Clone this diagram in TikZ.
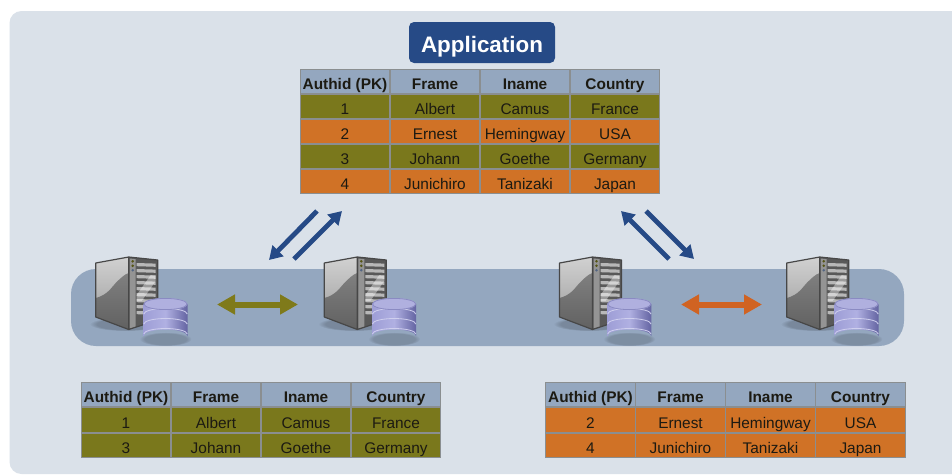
\documentclass[tikz,border=0pt]{standalone}
\usepackage{fontspec}
\setmainfont{Liberation Sans}
\usetikzlibrary{arrows.meta,fadings}
\definecolor{panelc}{HTML}{DAE1E9}
\definecolor{bandc}{HTML}{94A7BF}
\definecolor{olivec}{HTML}{7A781C}
\definecolor{orangec}{HTML}{D07226}
\definecolor{navyc}{HTML}{264A86}
\definecolor{gridc}{HTML}{8A8E90}
\definecolor{inkc}{HTML}{1C1A12}
\definecolor{arrolive}{HTML}{7F7A1A}
\definecolor{arrorange}{HTML}{D06322}
\definecolor{dbleft}{HTML}{9E9ED6}
\definecolor{dbmid}{HTML}{B0B0E2}
\definecolor{dbright}{HTML}{6464A2}
\definecolor{dbtop}{HTML}{B0B0DF}
\definecolor{dbrim}{HTML}{8A8AC2}
\definecolor{dbline}{HTML}{CFCFEE}
\tikzset{
  tcell/.style={draw=gridc,line width=1pt,minimum width=89.5pt,minimum height=24.5pt,inner sep=0pt,outer sep=0pt,
    text=inkc,text height=16pt,text depth=0pt,font=\fontsize{15.4}{17}\selectfont},
  headcell/.style={tcell,fill=bandc,font=\fontsize{15.4}{17}\selectfont\bfseries},
  olivecell/.style={tcell,fill=olivec},
  orangecell/.style={tcell,fill=orangec},
  appbox/.style={fill=navyc,rounded corners=5pt,minimum width=146pt,minimum height=41pt,inner sep=0pt,
    text=white,text height=20pt,text depth=0pt,font=\fontsize{22.4}{26}\selectfont\bfseries},
  bandbox/.style={fill=bandc,rounded corners=25pt,minimum width=833pt,minimum height=77pt,inner sep=0pt},
  bluearrow/.style={draw=navyc,line width=4.8pt,-{Triangle[length=13pt,width=15pt]}},
  syncolive/.style={draw=arrolive,line width=6pt,{Triangle[length=18pt,width=19pt]}-{Triangle[length=18pt,width=19pt]}},
  syncorange/.style={draw=arrorange,line width=6pt,{Triangle[length=18pt,width=19pt]}-{Triangle[length=18pt,width=19pt]}},
  serverunit/.pic={
    % soft floor shadow
    \fill[black,opacity=.18,path fading=circle with fuzzy edge 20 percent] (30,67) ellipse (36 and 7);
    % left face
    \shade[top color=black!18,bottom color=black!40] (0,6) -- (33,0) -- (33,72.5) -- (0,60) -- cycle;
    \shade[top color=black!50,bottom color=black!62]
      (0,41) .. controls (12,38) and (16,30) .. (20,26) .. controls (24,22) and (29,17) .. (33,16)
      -- (33,72.5) -- (0,60) -- cycle;
    % right face
    \fill[black!65] (33,0) -- (62,3) -- (62,63) -- (33,72.5) -- cycle;
    \fill[black!42] (34,1.5) -- (40,2.2) -- (40,70) -- (34,71.5) -- cycle;
    \foreach \vy in {6,12,18,24,30,36,42,48,54}{
      \fill[black!28] (41,\vy) -- (60,\vy+.6) -- (60,\vy+3.8) -- (41,\vy+3.2) -- cycle;
    }
    \fill[white,opacity=.4] (41,38) -- (55,18) -- (60,18) -- (60,24) -- (46,44) -- (41,44) -- cycle;
    \fill[olivec!70!black] (37,4.3) circle (1.4);
    \fill[olivec!70!black] (37,8.8) circle (1.4);
    \fill[navyc!50!gray] (37,13.2) circle (1.4);
    % outline
    \draw[black!72,line width=1.2pt,line join=round]
      (0,6) -- (33,0) -- (62,3) -- (62,63) -- (33,72.5) -- (0,60) -- cycle (33,0) -- (33,72.5);
    % database
    \begin{scope}[shift={(47.5,41)}]
      \fill[black,opacity=.15,path fading=circle with fuzzy edge 20 percent] (22.3,41) ellipse (26 and 7);
      \shade[left color=dbleft,right color=dbright,middle color=dbmid]
        (.3,6) -- (.3,38) arc[start angle=180,end angle=360,x radius=22,y radius=6.5] -- (44.3,6) -- cycle;
      \foreach \dy in {16,26,36}{
        \draw[dbline,line width=.8pt] (.6,\dy) arc[start angle=180,end angle=360,x radius=21.7,y radius=5.5];
      }
      \fill[dbtop] (22.3,6) ellipse (22 and 6);
      \draw[dbrim,line width=.8pt] (22.3,6) ellipse (21.6 and 5.6);
    \end{scope}
  }
}
% name prefix, row, y centre, left edge, style, four cell texts
\newcommand\tablerow[9]{%
  \node[#5] (#1r#2a) at (#4+45,#3) {#6};
  \node[#5] (#1r#2b) at (#4+135,#3) {#7};
  \node[#5] (#1r#2c) at (#4+225,#3) {#8};
  \node[#5] (#1r#2d) at (#4+315,#3) {#9};
}
\begin{document}
\begin{tikzpicture}[x=1pt,y=-1pt]
\useasboundingbox (0,0) rectangle (952,474);
\fill[white] (0,0) rectangle (952,474);
\fill[panelc] (952,474) -- (952,11) [rounded corners=12pt] -- (9.5,11) -- (9.5,474) [sharp corners] -- cycle;

\node[appbox] (app) at (482,42.5) {Application};

% top table
\tablerow{top}{0}{81.5}{300}{headcell}{Authid (PK)}{Frame}{Iname}{Country}
\tablerow{top}{1}{106.5}{300}{olivecell}{1}{Albert}{Camus}{France}
\tablerow{top}{2}{131.5}{300}{orangecell}{2}{Ernest}{Hemingway}{USA}
\tablerow{top}{3}{156.5}{300}{olivecell}{3}{Johann}{Goethe}{Germany}
\tablerow{top}{4}{181.5}{300}{orangecell}{4}{Junichiro}{Tanizaki}{Japan}

% server band
\node[bandbox] (band) at (487.5,307.5) {};
\pic (srva) at (95.7,257) {serverunit};
\pic (srvb) at (324.3,257) {serverunit};
\pic (srvc) at (559.5,257) {serverunit};
\pic (srvd) at (786.7,257) {serverunit};

% connector end points
\coordinate (la1) at (317,211);
\coordinate (la2) at (269,260);
\coordinate (lb1) at (294,259);
\coordinate (lb2) at (342,211);
\coordinate (ra1) at (669,259);
\coordinate (ra2) at (621,211);
\coordinate (rb1) at (646,211);
\coordinate (rb2) at (694,259);
\coordinate (ol1) at (217,304.5);
\coordinate (ol2) at (298,304.5);
\coordinate (or1) at (681,304.5);
\coordinate (or2) at (762,304.5);
\draw[bluearrow] (la1) -- (la2);
\draw[bluearrow] (lb1) -- (lb2);
\draw[bluearrow] (ra1) -- (ra2);
\draw[bluearrow] (rb1) -- (rb2);
\draw[syncolive] (ol1) -- (ol2);
\draw[syncorange] (or1) -- (or2);

% lower tables
\tablerow{bl}{0}{394.5}{81}{headcell}{Authid (PK)}{Frame}{Iname}{Country}
\tablerow{bl}{1}{420}{81}{olivecell}{1}{Albert}{Camus}{France}
\tablerow{bl}{2}{445.5}{81}{olivecell}{3}{Johann}{Goethe}{Germany}
\tablerow{br}{0}{394.5}{545.5}{headcell}{Authid (PK)}{Frame}{Iname}{Country}
\tablerow{br}{1}{420}{545.5}{orangecell}{2}{Ernest}{Hemingway}{USA}
\tablerow{br}{2}{445.5}{545.5}{orangecell}{4}{Junichiro}{Tanizaki}{Japan}
\end{tikzpicture}
\end{document}
